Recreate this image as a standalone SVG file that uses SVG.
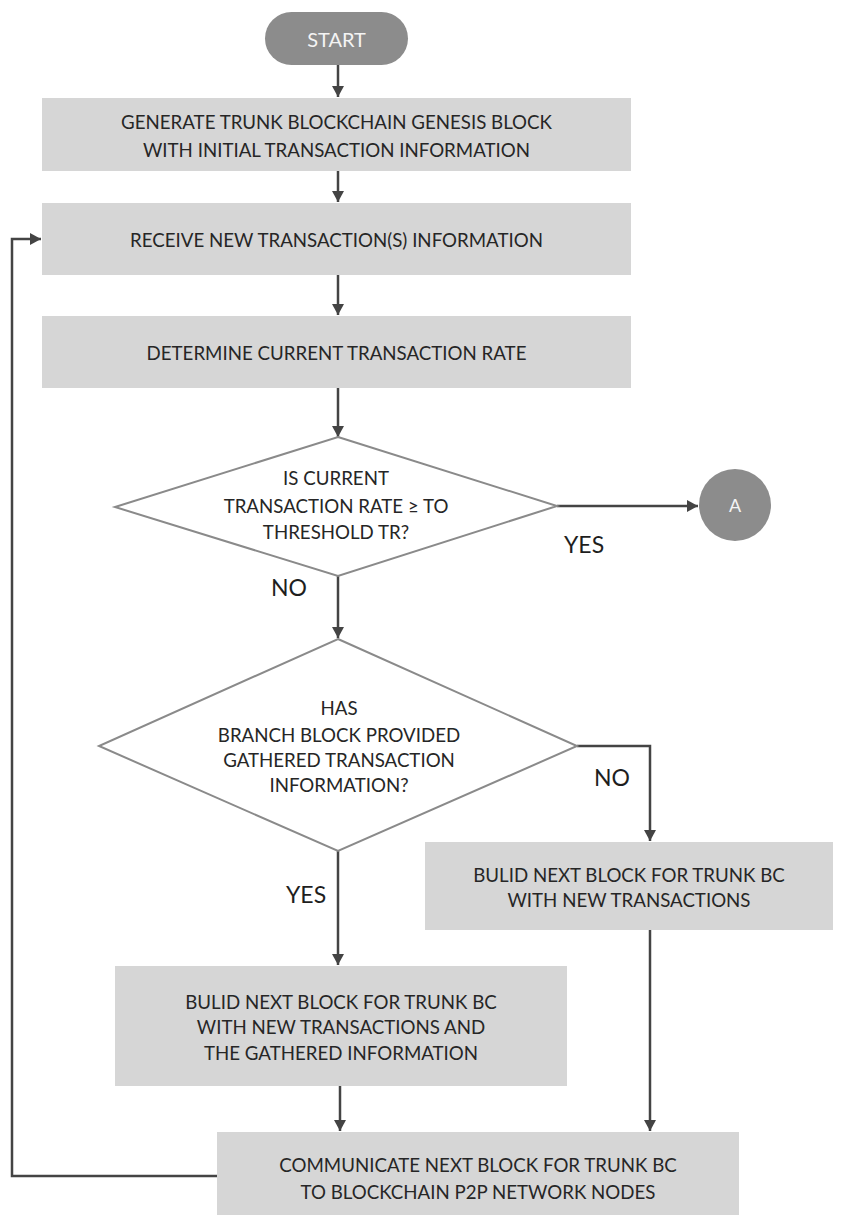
<svg xmlns="http://www.w3.org/2000/svg" width="862" height="1215" viewBox="0 0 862 1215">
<style>
.box{fill:#d6d6d6;}
.dia{fill:#ffffff;stroke:#8a8a8a;stroke-width:2;}
.t{font-family:Lato,"Liberation Sans",sans-serif;font-size:18.7px;fill:#262626;text-anchor:middle;dominant-baseline:central;}
.lbl{font-family:Lato,"Liberation Sans",sans-serif;font-size:23px;fill:#1e1e1e;}
.term{fill:#8c8c8c;}
.tw{font-family:Lato,"Liberation Sans",sans-serif;font-size:20px;fill:#f4f4f4;text-anchor:middle;dominant-baseline:central;}
.c{fill:none;stroke:#444;stroke-width:2.5;}
</style>
<defs>
<marker id="ah" markerWidth="11" markerHeight="12" refX="11" refY="6" orient="auto" markerUnits="userSpaceOnUse" viewBox="0 0 11 12">
<path d="M0,0 L11,6 L0,12 Z" fill="#444"/>
</marker>
</defs>
<g id="connectors">
<path class="c" d="M338,65 V97" marker-end="url(#ah)"/>
<path class="c" d="M338,171 V202" marker-end="url(#ah)"/>
<path class="c" d="M338,275 V315" marker-end="url(#ah)"/>
<path class="c" d="M338,388 V437" marker-end="url(#ah)"/>
<path class="c" d="M557,506 H698" marker-end="url(#ah)"/>
<path class="c" d="M338,576 V638" marker-end="url(#ah)"/>
<path class="c" d="M577,746 H650 V841" marker-end="url(#ah)"/>
<path class="c" d="M338,851 V965" marker-end="url(#ah)"/>
<path class="c" d="M650,930 V1131" marker-end="url(#ah)"/>
<path class="c" d="M340,1086 V1131" marker-end="url(#ah)"/>
<path class="c" d="M217,1176 H12 V239 H41" marker-end="url(#ah)"/>
<text class="lbl" x="564" y="553">YES</text>
<text class="lbl" x="271" y="596">NO</text>
<text class="lbl" x="594" y="786">NO</text>
<text class="lbl" x="286" y="903">YES</text>
</g>
<g id="start">
<rect class="term" x="265" y="12" width="143" height="53" rx="26.5"/>
<text class="tw" x="336.5" y="39">START</text>
</g>
<g id="genesis">
<rect class="box" x="42" y="98" width="589" height="73"/>
<text class="t" x="336.5" y="122">GENERATE TRUNK BLOCKCHAIN GENESIS BLOCK</text>
<text class="t" x="336.5" y="150">WITH INITIAL TRANSACTION INFORMATION</text>
</g>
<g id="receive">
<rect class="box" x="42" y="203" width="589" height="72"/>
<text class="t" x="336.5" y="240">RECEIVE NEW TRANSACTION(S) INFORMATION</text>
</g>
<g id="determine">
<rect class="box" x="42" y="316" width="589" height="72"/>
<text class="t" x="336.5" y="353">DETERMINE CURRENT TRANSACTION RATE</text>
</g>
<g id="decision1">
<polygon class="dia" points="338,437 557,506 338,576 115,507"/>
<text class="t" x="336" y="478">IS CURRENT</text>
<text class="t" x="336" y="506">TRANSACTION RATE ≥ TO</text>
<text class="t" x="336" y="532">THRESHOLD TR?</text>
</g>
<g id="connectorA">
<circle cx="735" cy="505" r="36" fill="#8c8c8c"/>
<text class="tw" x="735" y="505" style="font-size:18px">A</text>
</g>
<g id="decision2">
<polygon class="dia" points="338,639 577,746 338,851 99,746"/>
<text class="t" x="339" y="708">HAS</text>
<text class="t" x="339" y="735">BRANCH BLOCK PROVIDED</text>
<text class="t" x="339" y="760">GATHERED TRANSACTION</text>
<text class="t" x="339" y="785">INFORMATION?</text>
</g>
<g id="buildTrunk">
<rect class="box" x="425" y="842" width="408" height="88"/>
<text class="t" x="629" y="875">BULID NEXT BLOCK FOR TRUNK BC</text>
<text class="t" x="629" y="900">WITH NEW TRANSACTIONS</text>
</g>
<g id="buildGathered">
<rect class="box" x="115" y="966" width="452" height="120"/>
<text class="t" x="341" y="1002">BULID NEXT BLOCK FOR TRUNK BC</text>
<text class="t" x="341" y="1027">WITH NEW TRANSACTIONS AND</text>
<text class="t" x="341" y="1053">THE GATHERED INFORMATION</text>
</g>
<g id="communicate">
<rect class="box" x="217" y="1132" width="522" height="83"/>
<text class="t" x="478" y="1165">COMMUNICATE NEXT BLOCK FOR TRUNK BC</text>
<text class="t" x="478" y="1192">TO BLOCKCHAIN P2P NETWORK NODES</text>
</g>
</svg>
